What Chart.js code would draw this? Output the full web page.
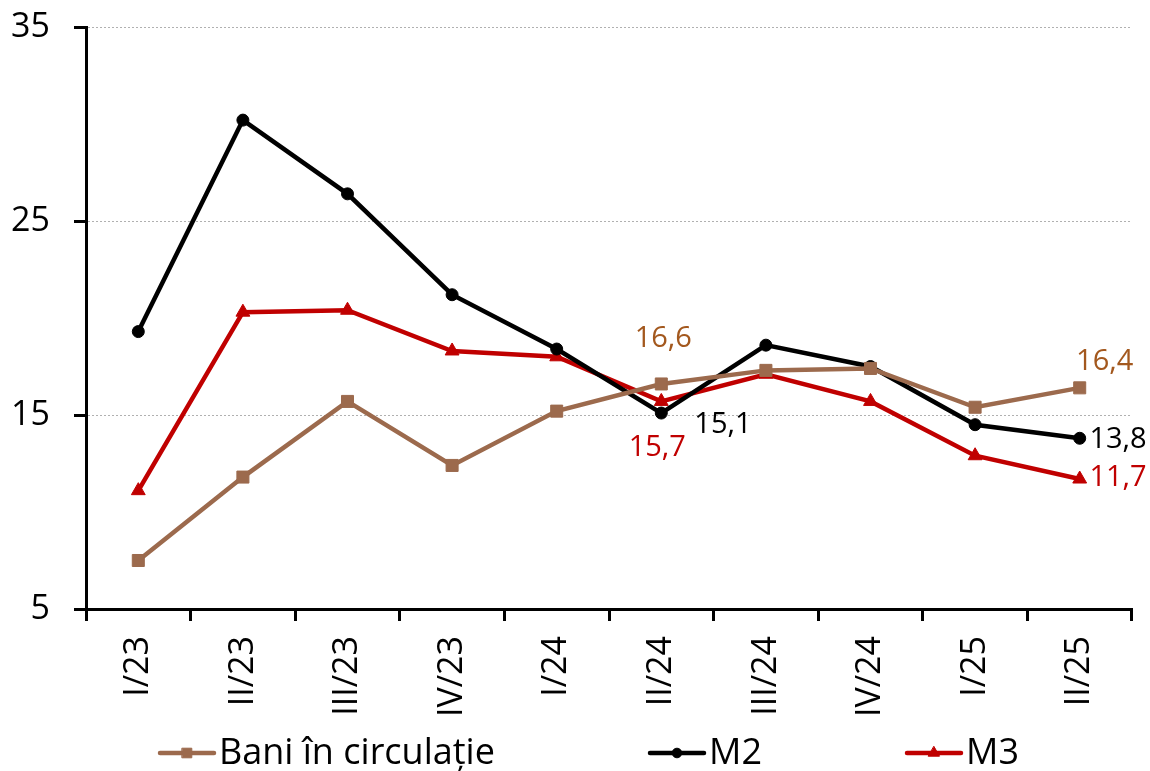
<!DOCTYPE html>
<html><head><meta charset="utf-8">
<script src="https://cdn.jsdelivr.net/npm/chart.js@4/dist/chart.umd.min.js"></script>
<style>html,body{margin:0;padding:0;background:#fff}#wrap{width:1150px;height:771px}</style>
</head><body><div id="wrap"><canvas id="c" width="1150" height="771"></canvas></div>
<script>
const categories = ['I/23','II/23','III/23','IV/23','I/24','II/24','III/24','IV/24','I/25','II/25'];
const baniValues = [7.5, 11.8, 15.7, 12.4, 15.2, 16.6, 17.3, 17.4, 15.4, 16.4];
const m2Values   = [19.3, 30.2, 26.4, 21.2, 18.4, 15.1, 18.6, 17.5, 14.5, 13.8];
const m3Values   = [11.1, 20.3, 20.4, 18.3, 18.0, 15.7, 17.1, 15.7, 12.9, 11.7];
const seriesNames = ['Bani în circulație', 'M2', 'M3'];
const yTicks = [5, 15, 25, 35];

const FONT = '"Open Sans"';
const BROWN = '#9C6A4D', BROWN_LABEL = '#A3581E', RED = '#C00000', BLACK = '#000000';

// labels shown: [datasetIndex, pointIndex, dx, dy, align, color]
const valueLabels = [
  [0, 5, 2, -45, 'center', BROWN_LABEL],
  [0, 9, 25, -26, 'center', BROWN_LABEL],
  [1, 5, 33, 12, 'left', BLACK],
  [1, 9, 67, 1, 'right', BLACK],
  [2, 5, -4, 46, 'center', RED],
  [2, 9, 67, -1, 'right', RED]
];

const labelPlugin = {
  id: 'vlabels',
  afterDatasetsDraw(chart) {
    const ctx = chart.ctx;
    ctx.save();
    ctx.font = '29px ' + FONT;
    ctx.textBaseline = 'middle';
    valueLabels.forEach(([di, pi, dx, dy, al, col]) => {
      const el = chart.getDatasetMeta(di).data[pi];
      const v = chart.data.datasets[di].data[pi];
      ctx.fillStyle = col;
      ctx.textAlign = al;
      ctx.fillText(v.toFixed(1).replace('.', ','), el.x + dx, el.y + dy);
    });
    ctx.restore();
  }
};

const legendPlugin = {
  id: 'customLegend',
  afterDraw(chart) {
    const ctx = chart.ctx;
    const y = 753;
    const items = [[160, 0], [650, 1], [907, 2]];
    ctx.save();
    ctx.font = '36px ' + FONT;
    ctx.textBaseline = 'middle';
    ctx.textAlign = 'left';
    items.forEach(([x, di]) => {
      const ds = chart.data.datasets[di];
      ctx.strokeStyle = ds.borderColor;
      ctx.lineWidth = 4.5;
      ctx.lineCap = 'round';
      ctx.beginPath(); ctx.moveTo(x, y); ctx.lineTo(x + 54, y); ctx.stroke();
      ctx.fillStyle = ds.borderColor;
      ctx.lineWidth = 1;
      Chart.helpers.drawPoint(ctx, {pointStyle: ds.pointStyle, radius: ds.pointRadius * 0.8, rotation: 0, borderWidth: 1}, x + 27, y);
      ctx.fillStyle = '#000';
      ctx.fillText(ds.label, x + 59, y + 1);
    });
    ctx.restore();
  }
};

function ds(label, data, color, style, r) {
  return {label, data, borderColor: color, backgroundColor: color, borderWidth: 4.5,
    pointStyle: style, pointRadius: r, pointHoverRadius: r, pointBorderWidth: 1,
    pointBorderColor: color, pointBackgroundColor: color, tension: 0, fill: false};
}

new Chart(document.getElementById('c'), {
  type: 'line',
  data: {
    labels: categories,
    datasets: [
      ds(seriesNames[0], baniValues, BROWN, 'rect', 8.5),
      ds(seriesNames[1], m2Values, BLACK, 'circle', 6),
      ds(seriesNames[2], m3Values, RED, 'triangle', 8)
    ]
  },
  options: {
    responsive: false,
    animation: false,
    devicePixelRatio: 1,
    layout: {padding: {top: 27, right: 18, left: 0, bottom: 0}},
    plugins: {legend: {display: false}, tooltip: {enabled: false}},
    scales: {
      x: {
        offset: true,
        grid: {offset: true, drawOnChartArea: false, drawTicks: true, tickLength: 12, tickColor: '#000', tickWidth: 3},
        border: {display: true, color: '#000', width: 3},
        ticks: {color: '#000', font: {family: 'Open Sans', size: 34}, minRotation: 90, maxRotation: 90, padding: 15, autoSkip: false},
        afterFit(s) { s.height = 162; s.paddingLeft = 0; s.paddingRight = 0; }
      },
      y: {
        min: 5, max: 35,
        afterBuildTicks(s) { s.ticks = yTicks.map(v => ({value: v})); },
        grid: {color: '#B0B0B0', lineWidth: 1, tickLength: 12, tickColor: '#000', tickWidth: 3, tickBorderDash: []},
        border: {display: true, color: '#000', width: 3, dash: [2, 2]},
        ticks: {color: '#000', font: {family: 'Open Sans', size: 34}, padding: 24},
        afterFit(s) { s.width = 86; s.paddingTop = 0; s.paddingBottom = 0; }
      }
    }
  },
  plugins: [labelPlugin, legendPlugin]
});
</script>
</body></html>
